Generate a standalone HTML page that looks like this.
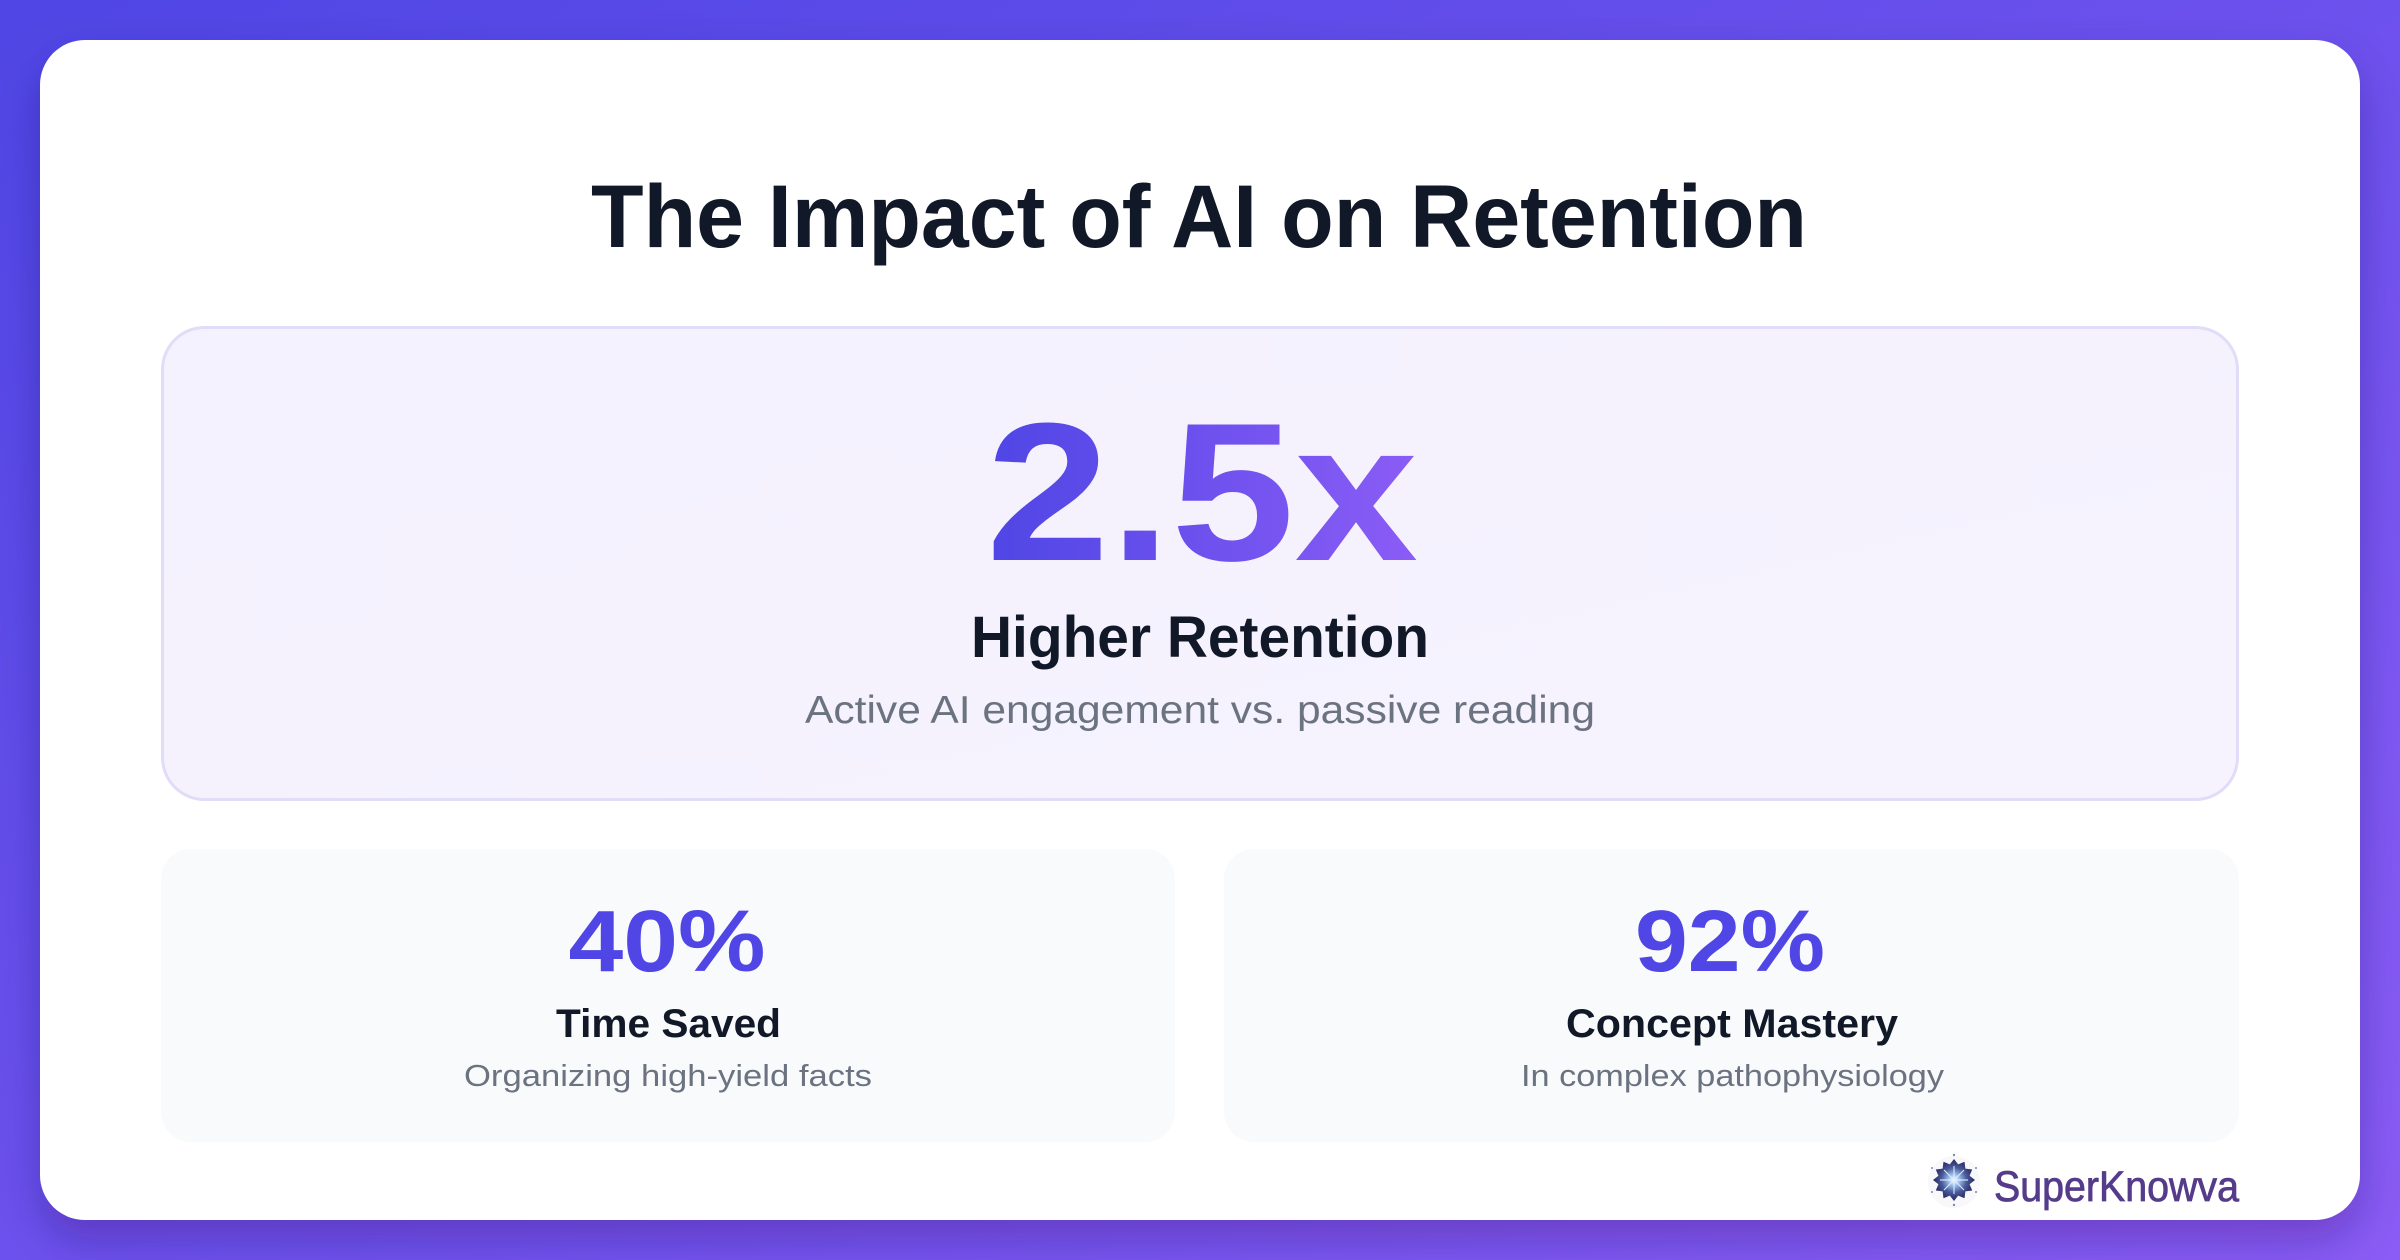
<!DOCTYPE html>
<html>
<head>
<meta charset="utf-8">
<style>
  html,body{margin:0;padding:0;width:2400px;height:1260px;overflow:hidden;}
  svg{display:block;}
  text{font-family:"Liberation Sans", Arial, sans-serif;}
</style>
</head>
<body>
<svg width="2400" height="1260" viewBox="0 0 2400 1260" xmlns="http://www.w3.org/2000/svg">
  <defs>
    <linearGradient id="bg" x1="0" y1="0" x2="1" y2="1">
      <stop offset="0" stop-color="#4f46e5"/>
      <stop offset="1" stop-color="#8b5cf6"/>
    </linearGradient>
    <linearGradient id="num" x1="988" y1="0" x2="1416" y2="0" gradientUnits="userSpaceOnUse">
      <stop offset="0" stop-color="#4f46e5"/>
      <stop offset="1" stop-color="#8b5cf6"/>
    </linearGradient>
    <linearGradient id="panel" x1="0" y1="0" x2="1" y2="1">
      <stop offset="0" stop-color="#f4f2fe"/>
      <stop offset="1" stop-color="#f6f3ff"/>
    </linearGradient>
    <radialGradient id="star" cx="0.5" cy="0.5" r="0.5">
      <stop offset="0" stop-color="#ffffff"/>
      <stop offset="0.25" stop-color="#9fc3ee"/>
      <stop offset="0.6" stop-color="#4a5a9a"/>
      <stop offset="1" stop-color="#262660"/>
    </radialGradient>
    <filter id="sh" x="-10%" y="-10%" width="120%" height="125%">
      <feDropShadow dx="0" dy="20" stdDeviation="22" flood-color="#1e1050" flood-opacity="0.28"/>
    </filter>
  </defs>

  <!-- background -->
  <rect x="0" y="0" width="2400" height="1260" fill="url(#bg)"/>

  <!-- main card -->
  <rect x="40" y="40" width="2320" height="1180" rx="45" ry="45" fill="#ffffff" filter="url(#sh)"/>

  <!-- title -->
  <text x="1199" y="247" font-size="89" font-weight="700" fill="#111827" text-anchor="middle" textLength="1216" lengthAdjust="spacingAndGlyphs">The Impact of AI on Retention</text>

  <!-- hero panel -->
  <rect x="162.5" y="327.5" width="2075" height="472" rx="42" ry="42" fill="url(#panel)" stroke="#e1dcf8" stroke-width="3"/>

  <text x="1202" y="560" font-size="197" font-weight="700" fill="url(#num)" text-anchor="middle" textLength="432" lengthAdjust="spacingAndGlyphs">2.5x</text>
  <text x="1200" y="657" font-size="58" font-weight="700" fill="#111827" text-anchor="middle" textLength="458" lengthAdjust="spacingAndGlyphs">Higher Retention</text>
  <text x="1200" y="723" font-size="39" fill="#6b7280" text-anchor="middle" textLength="790" lengthAdjust="spacingAndGlyphs">Active AI engagement vs. passive reading</text>

  <!-- bottom cards -->
  <rect x="161" y="849" width="1014" height="293" rx="30" ry="30" fill="#f8fafc"/>
  <rect x="1224" y="849" width="1015" height="293" rx="30" ry="30" fill="#f8fafc"/>

  <text x="667" y="971" font-size="87" font-weight="700" fill="#4f46e5" text-anchor="middle" textLength="197" lengthAdjust="spacingAndGlyphs">40%</text>
  <text x="668.5" y="1037" font-size="40" font-weight="700" fill="#111827" text-anchor="middle" textLength="225" lengthAdjust="spacingAndGlyphs">Time Saved</text>
  <text x="668" y="1086" font-size="31" fill="#6b7280" text-anchor="middle" textLength="408" lengthAdjust="spacingAndGlyphs">Organizing high-yield facts</text>

  <text x="1730" y="971" font-size="87" font-weight="700" fill="#4f46e5" text-anchor="middle" textLength="190" lengthAdjust="spacingAndGlyphs">92%</text>
  <text x="1732" y="1037" font-size="40" font-weight="700" fill="#111827" text-anchor="middle" textLength="332" lengthAdjust="spacingAndGlyphs">Concept Mastery</text>
  <text x="1732.5" y="1086" font-size="31" fill="#6b7280" text-anchor="middle" textLength="423" lengthAdjust="spacingAndGlyphs">In complex pathophysiology</text>

  <!-- logo -->
  <g transform="translate(1954,1180)">
    <circle cx="0" cy="2" r="26" fill="#f3f3f6" opacity="0.6"/>
    <polygon fill="url(#star)" points="0,-21 4.2,-15.6 10.5,-18.2 11.4,-11.4 18.2,-10.5 15.6,-4.2 21,0 15.6,4.2 18.2,10.5 11.4,11.4 10.5,18.2 4.2,15.6 0,21 -4.2,15.6 -10.5,18.2 -11.4,11.4 -18.2,10.5 -15.6,4.2 -21,0 -15.6,-4.2 -18.2,-10.5 -11.4,-11.4 -10.5,-18.2 -4.2,-15.6"/>
    <g stroke="#dfeeff" stroke-width="1.2" opacity="0.9">
      <line x1="0" y1="-14" x2="0" y2="14"/>
      <line x1="-14" y1="0" x2="14" y2="0"/>
      <line x1="-10" y1="-10" x2="10" y2="10"/>
      <line x1="-10" y1="10" x2="10" y2="-10"/>
    </g>
    <g fill="#6f8fc0">
      <circle cx="0" cy="-25" r="1.2"/><circle cx="0" cy="25" r="1.2"/>
      <circle cx="-22" cy="-12" r="1"/><circle cx="22" cy="-12" r="1"/>
      <circle cx="-22" cy="12" r="1"/><circle cx="22" cy="12" r="1"/>
    </g>
  </g>
  <text x="1994" y="1201" font-size="43" fill="#553c8b" stroke="#553c8b" stroke-width="0.8" textLength="245" lengthAdjust="spacingAndGlyphs">SuperKnowva</text>
</svg>
</body>
</html>
